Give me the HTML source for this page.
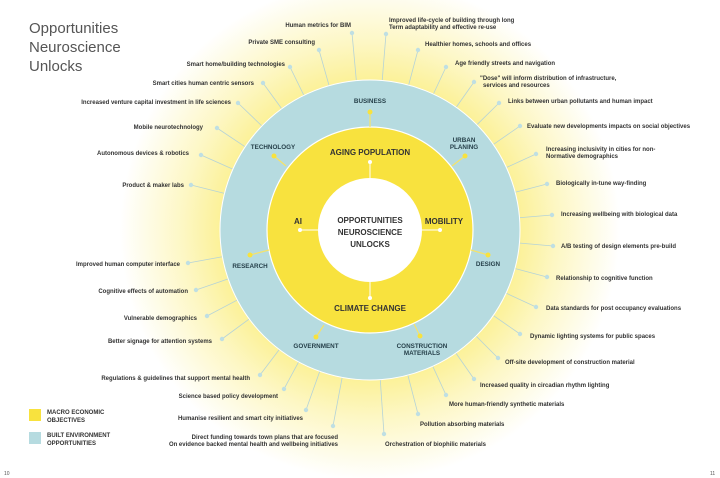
<!DOCTYPE html>
<html><head><meta charset="utf-8"><style>
html,body{margin:0;padding:0;background:#fff;}
svg{display:block;font-family:"Liberation Sans",sans-serif;}
.l{font-size:6px;font-weight:bold;fill:#333;}
.c{font-size:6.3px;font-weight:bold;fill:#26404a;}
.y{font-size:8px;font-weight:bold;fill:#333;}
</style></head><body>
<svg id="s" width="720" height="478" viewBox="0 0 720 478" xmlns="http://www.w3.org/2000/svg">
<defs>
<radialGradient id="g" cx="370" cy="230" r="250" gradientUnits="userSpaceOnUse">
<stop offset="0.55" stop-color="#fbef8a"/>
<stop offset="0.75" stop-color="#fdf7c4"/>
<stop offset="1" stop-color="#ffffff"/>
</radialGradient>
</defs>
<rect width="720" height="478" fill="#fff"/>
<circle cx="370" cy="230" r="250" fill="url(#g)"/>
<g id="lines" stroke="#b5d3d7" stroke-width="0.8"></g>
<circle cx="370" cy="230" r="150" fill="#b6dbe0" stroke="#fff" stroke-width="1"/>
<circle cx="370" cy="230" r="103" fill="#f8e23e" stroke="#fff" stroke-width="1.2"/>
<circle cx="370" cy="230" r="52" fill="#fff"/>
<g stroke="#f5e36a" stroke-width="1.2">
<line x1="370" y1="112" x2="370" y2="127"/><line x1="274" y1="156" x2="286" y2="166"/>
<line x1="465" y1="156" x2="452" y2="166"/><line x1="250" y1="255" x2="269" y2="250"/>
<line x1="488" y1="255" x2="471" y2="250"/><line x1="316" y1="337" x2="324" y2="325"/>
<line x1="420" y1="336" x2="414" y2="324"/>
</g>
<g fill="#f8e23e"><circle cx="370" cy="112" r="2.5"/><circle cx="274" cy="156" r="2.5"/><circle cx="465" cy="156" r="2.5"/><circle cx="250" cy="255" r="2.5"/><circle cx="488" cy="255" r="2.5"/><circle cx="316" cy="337" r="2.5"/><circle cx="420" cy="336" r="2.5"/></g>
<g stroke="#fff" stroke-width="1"><line x1="370" y1="162" x2="370" y2="178"/><line x1="300" y1="230" x2="318" y2="230"/><line x1="440" y1="230" x2="422" y2="230"/><line x1="370" y1="298" x2="370" y2="282"/></g>
<g fill="#fff"><circle cx="370" cy="162" r="2"/><circle cx="300" cy="230" r="2"/><circle cx="440" cy="230" r="2"/><circle cx="370" cy="298" r="2"/></g>
<g id="dots" fill="#bfdfe3"></g>
<text x="29" y="33" font-size="15" fill="#555">Opportunities</text>
<text x="29" y="52" font-size="15" fill="#555">Neuroscience</text>
<text x="29" y="71" font-size="15" fill="#555">Unlocks</text>
<g class="c" text-anchor="middle">
<text x="370" y="103">BUSINESS</text><text x="273" y="149">TECHNOLOGY</text>
<text x="464" y="142">URBAN</text><text x="464" y="149">PLANING</text>
<text x="250" y="268">RESEARCH</text><text x="488" y="266">DESIGN</text>
<text x="316" y="348">GOVERNMENT</text><text x="422" y="348">CONSTRUCTION</text><text x="422" y="355">MATERIALS</text>
</g>
<g class="y" text-anchor="middle">
<text x="370" y="155">AGING POPULATION</text><text x="298" y="224">AI</text>
<text x="444" y="224">MOBILITY</text><text x="370" y="311">CLIMATE CHANGE</text>
<text x="370" y="223">OPPORTUNITIES</text><text x="370" y="235">NEUROSCIENCE</text><text x="370" y="247">UNLOCKS</text>
</g>
<g class="l" text-anchor="end">
<text x="351" y="27">Human metrics for BIM</text>
<text x="315" y="44">Private SME consulting</text>
<text x="285" y="66">Smart home/building technologies</text>
<text x="254" y="85">Smart cities human centric sensors</text>
<text x="231" y="104">Increased venture capital investment in life sciences</text>
<text x="203" y="129">Mobile neurotechnology</text>
<text x="189" y="155">Autonomous devices &amp; robotics</text>
<text x="184" y="187">Product &amp; maker labs</text>
<text x="180" y="266">Improved human computer interface</text>
<text x="188" y="293">Cognitive effects of automation</text>
<text x="197" y="320">Vulnerable demographics</text>
<text x="212" y="343">Better signage for attention systems</text>
<text x="250" y="380">Regulations &amp; guidelines that support mental health</text>
<text x="278" y="398">Science based policy development</text>
<text x="303" y="420">Humanise resilient and smart city initiatives</text>
<text x="338" y="439">Direct funding towards town plans that are focused</text>
<text x="338" y="446">On evidence backed mental health and wellbeing initiatives</text>
</g>
<g class="l">
<text x="389" y="22">Improved life-cycle of building through long</text>
<text x="389" y="29">Term adaptability and effective re-use</text>
<text x="425" y="46">Healthier homes, schools and offices</text>
<text x="455" y="65">Age friendly streets and navigation</text>
<text x="480" y="80">"Dose" will inform distribution of infrastructure,</text>
<text x="483" y="87">services and resources</text>
<text x="508" y="103">Links between urban pollutants and human impact</text>
<text x="527" y="128">Evaluate new developments impacts on social objectives</text>
<text x="546" y="151">Increasing inclusivity in cities for non-</text>
<text x="546" y="158">Normative demographics</text>
<text x="556" y="185">Biologically in-tune way-finding</text>
<text x="561" y="216">Increasing wellbeing with biological data</text>
<text x="561" y="248">A/B testing of design elements pre-build</text>
<text x="556" y="280">Relationship to cognitive function</text>
<text x="546" y="310">Data standards for post occupancy evaluations</text>
<text x="530" y="338">Dynamic lighting systems for public spaces</text>
<text x="505" y="364">Off-site development of construction material</text>
<text x="480" y="387">Increased quality in circadian rhythm lighting</text>
<text x="449" y="406">More human-friendly synthetic materials</text>
<text x="420" y="426">Pollution absorbing materials</text>
<text x="385" y="446">Orchestration of biophilic materials</text>
</g>
<rect x="29" y="409" width="12" height="12" fill="#f8e23e"/>
<rect x="29" y="432" width="12" height="12" fill="#b6dbe0"/>
<g class="l" fill="#333"><text x="47" y="414">MACRO ECONOMIC</text><text x="47" y="422">OBJECTIVES</text>
<text x="47" y="437">BUILT ENVIRONMENT</text><text x="47" y="445">OPPORTUNITIES</text></g>
<text x="4" y="475" font-size="5" fill="#555">10</text>
<text x="710" y="475" font-size="5" fill="#555">11</text>
</svg>
<script>
var d=[[352,33],[319,50],[290,67],[263,83],[238,103],[217,128],[201,155],[191,185],[188,263],[196,290],[207,316],[222,339],[260,375],[284,389],[306,410],[333,426],
[386,34],[418,50],[446,67],[474,82],[499,103],[520,126],[536,154],[547,184],[552,215],[553,246],[547,277],[536,307],[520,334],[498,358],[474,379],[446,395],[418,414],[384,434]];
var ns="http://www.w3.org/2000/svg",L=document.getElementById("lines"),D=document.getElementById("dots");
d.forEach(function(p){var dx=p[0]-370,dy=p[1]-230,m=Math.sqrt(dx*dx+dy*dy);
var l=document.createElementNS(ns,"line");l.setAttribute("x1",p[0]);l.setAttribute("y1",p[1]);
l.setAttribute("x2",370+dx/m*148);l.setAttribute("y2",230+dy/m*148);L.appendChild(l);
var c=document.createElementNS(ns,"circle");c.setAttribute("cx",p[0]);c.setAttribute("cy",p[1]);c.setAttribute("r",2.2);D.appendChild(c);});
</script>
</body></html>
